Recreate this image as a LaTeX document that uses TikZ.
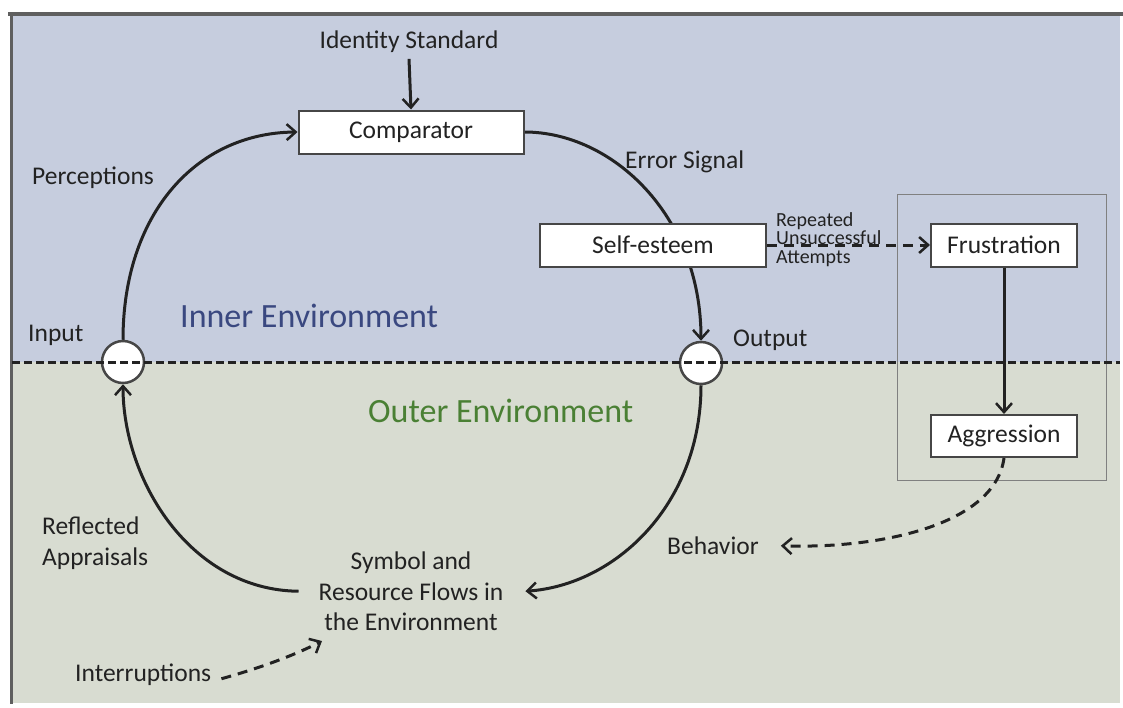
\documentclass[tikz,border=0pt]{standalone}
\usepackage{fontspec}
\setmainfont{Carlito}
\usetikzlibrary{arrows.meta}
\definecolor{innerbg}{RGB}{198,205,222}
\definecolor{outerbg}{RGB}{216,220,209}
\definecolor{innerfg}{RGB}{58,72,128}
\definecolor{outerfg}{RGB}{74,128,52}
\definecolor{ink}{RGB}{34,34,34}
\definecolor{boxline}{RGB}{70,70,70}
\definecolor{framecol}{RGB}{95,95,95}
\pgfdeclarelayer{back}
\pgfdeclarelayer{mid}
\pgfdeclarelayer{front}
\pgfsetlayers{back,mid,main,front}
\begin{document}
\begin{tikzpicture}[x=1pt,y=-1pt,
  lbl/.style={font=\fontsize{25.5}{30.5}\selectfont, text=ink, inner sep=0pt},
  smalllbl/.style={font=\fontsize{20}{18.5}\selectfont, text=ink, inner sep=0pt, align=left},
  envlbl/.style={font=\fontsize{34}{40}\selectfont, inner sep=0pt},
  stage/.style={draw=boxline, line width=2pt, fill=white, font=\fontsize{25.5}{31}\selectfont,
                text=ink, minimum height=43pt, inner sep=0pt},
  port/.style={circle, draw=boxline, line width=2.5pt, fill=white, minimum size=42pt, inner sep=0pt},
  tip/.style={-{Straight Barb[length=9pt,width=16pt,line width=2.5pt]}},
  flow/.style={line width=3pt, draw=ink, tip},
  dflow/.style={line width=3pt, draw=ink, dash pattern=on 10pt off 7pt, tip},
]
\useasboundingbox (0,0) rectangle (1123,707);

% backgrounds and frame
\begin{pgfonlayer}{back}
  \fill[white] (0,0) rectangle (1123,707);
  \fill[innerbg] (12,15) rectangle (1120,362);
  \fill[outerbg] (12,362) rectangle (1120,703);
  \draw[framecol, line width=3.5pt] (8,14) -- (1123,14);
  \draw[framecol, line width=3pt] (11,13) -- (11,704);
  \draw[gray, line width=1pt] (897,194) rectangle (1106,480);
\end{pgfonlayer}

% boxes and ports
\node[stage, minimum width=225pt] (comp) at (411,132) {Comparator};
\node[stage, minimum width=226pt] (self) at (653,245) {Self-esteem};
\node[stage, minimum width=146pt] (frus) at (1004,245) {Frustration};
\node[stage, minimum width=146pt, minimum height=42pt] (aggr) at (1004,436) {Aggression};
\node[port] (inp) at (123,362) {};
\node[port] (outp) at (701,363) {};

% labels (multi-line nodes are placed by the baseline of their last line)
\node[lbl, anchor=base] (ident) at (409,48.5) {Identity Standard};
\node[lbl, anchor=base west] (perc) at (32,184.5) {Perceptions};
\node[lbl, anchor=base west] (err) at (625,168.5) {Error Signal};
\node[lbl, anchor=base west] (inlbl) at (28,341) {Input};
\node[lbl, anchor=base west] (outlbl) at (733,346) {Output};
\node[envlbl, text=innerfg, anchor=base west] (inner) at (180,327) {Inner Environment};
\node[envlbl, text=outerfg, anchor=base west] (outer) at (368,422) {Outer Environment};
\node[lbl, anchor=base west, align=left] (refl) at (42,565) {Reflected\\Appraisals};
\node[lbl, anchor=base, align=center] (sym) at (411,630.5) {Symbol and\\Resource Flows in\\the Environment};
\node[lbl, anchor=base west] (beh) at (667,554.5) {Behavior};
\node[lbl, anchor=base west] (intr) at (75,681.5) {Interruptions};
\node[smalllbl, anchor=base west] (rep) at (776,263) {Repeated\\Unsuccessful\\Attempts};
\coordinate (intrtip) at (322,641);

% feedback loop
\begin{pgfonlayer}{mid}
  \draw[flow] (inp.north) .. controls (123,215) and (195,133) .. (comp.west);
  \draw[flow] (comp.east) .. controls (612,132) and (701,215) .. (outp.north);
  \draw[flow] (outp.south) .. controls (701,505) and (615,585) .. ([xshift=22pt]sym.east);
  \draw[flow] ([xshift=-20pt]sym.west) .. controls (190,590) and (123,480) .. (inp.south);
\end{pgfonlayer}

\draw[flow] ([yshift=-6pt]ident.south) -- (comp.north);
\draw[dflow] (self.east) -- (frus.west);
\draw[dflow] (aggr.south) .. controls (995,525) and (880,549) .. ([xshift=22pt]beh.east);
\draw[dflow] ([xshift=10pt,yshift=-4pt]intr.east) .. controls (260,668) and (295,655) .. (intrtip);

% boundary between the environments
\begin{pgfonlayer}{front}
  \draw[ink, line width=3pt, dash pattern=on 8pt off 4pt] (12,362) -- (1120,362);
  \draw[flow] (frus.south) -- (aggr.north);
\end{pgfonlayer}
\end{tikzpicture}
\end{document}
